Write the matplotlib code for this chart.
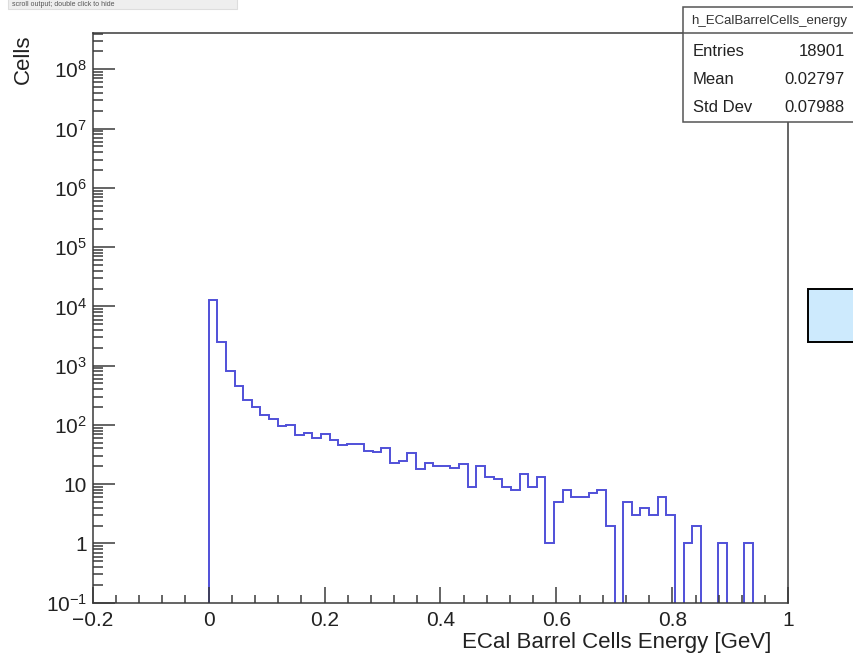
import numpy as np
import matplotlib
matplotlib.use('Agg')
import matplotlib.pyplot as plt
from matplotlib.patches import Rectangle
from matplotlib.ticker import FixedLocator, FixedFormatter, LogLocator, MultipleLocator, NullFormatter

plt.rcParams['font.family'] = ['Liberation Sans', 'DejaVu Sans']
plt.rcParams['mathtext.fontset'] = 'custom'
plt.rcParams['mathtext.rm'] = 'Liberation Sans'
plt.rcParams['mathtext.it'] = 'Liberation Sans:italic'

# =========================
# data
# =========================
bin_lo = 0.0
bin_w = 0.0149
counts = [13000, 2505, 811, 447, 267, 200, 149, 127, 94, 99,
          68, 74, 60, 71, 56, 45, 48, 47, 36, 35,
          40, 23, 25, 33, 18, 23, 20, 20, 19, 22,
          9, 20, 13, 12, 9, 8, 15, 9, 13, 1,
          5, 8, 6, 6, 7, 8, 2, 0, 5, 3,
          4, 3, 6, 3, 0, 1, 2, 0, 0, 1,
          0, 0, 1]

x_ticks = [-0.2, 0, 0.2, 0.4, 0.6, 0.8, 1]
x_labels = ['\u22120.2', '0', '0.2', '0.4', '0.6', '0.8', '1']
y_ticks = [1e-1, 1, 1e1, 1e2, 1e3, 1e4, 1e5, 1e6, 1e7, 1e8]
y_labels = ['$10^{-1}$', '1', '10', '$10^{2}$', '$10^{3}$', '$10^{4}$',
            '$10^{5}$', '$10^{6}$', '$10^{7}$', '$10^{8}$']

stat_names = ['Entries', 'Mean', 'Std Dev']
stat_values = ['18901', '0.02797', '0.07988']
hist_name = 'h_ECalBarrelCells_energy'

edges = bin_lo + np.arange(len(counts) + 1) * bin_w

# =========================
# figure
# =========================
fig = plt.figure(figsize=(8.54, 6.55), dpi=100)
ax = fig.add_axes([0.1085, 0.0798, 0.8146, 0.8694])

ax.set_yscale('log', nonpositive='clip')
ax.stairs(counts, edges, baseline=0, color='#5050d8', linewidth=1.4)

ax.set_xlim(-0.2, 1.0)
ax.set_ylim(0.1, 10 ** 8.607)

frame_col = '#3a3a3a'
for s in ax.spines.values():
    s.set_color(frame_col)
    s.set_linewidth(1.1)

ax.xaxis.set_major_locator(FixedLocator(x_ticks))
ax.xaxis.set_major_formatter(FixedFormatter(x_labels))
ax.xaxis.set_minor_locator(MultipleLocator(0.04))
ax.yaxis.set_major_locator(FixedLocator(y_ticks))
ax.yaxis.set_major_formatter(FixedFormatter(y_labels))
ax.yaxis.set_minor_locator(LogLocator(base=10, subs=np.arange(2, 10), numticks=30))
ax.yaxis.set_minor_formatter(NullFormatter())

ax.tick_params(axis='both', which='both', direction='in', top=False, right=False,
               color=frame_col, labelcolor='#222222', labelsize=15, width=1.1)
ax.tick_params(axis='x', which='major', length=11.5, pad=6)
ax.tick_params(axis='x', which='minor', length=5.8)
ax.tick_params(axis='y', which='major', length=15.5, pad=4)
ax.tick_params(axis='y', which='minor', length=7.5)

ax.set_xlabel('ECal Barrel Cells Energy [GeV]', fontsize=16, color='#222222', ha='right')
ax.xaxis.set_label_coords(0.976, -0.051)
ax.set_ylabel('Cells', fontsize=16, color='#222222', loc='top')
ax.yaxis.set_label_coords(-0.084, 0.997)

# =========================
# stats box
# =========================
W, H = 854.0, 655.0
box = Rectangle((683.3 / W, 1 - 121.7 / H), 200 / W, (121.7 - 7.3) / H,
                transform=fig.transFigure, facecolor='white', edgecolor='#555555',
                linewidth=1.1, zorder=5)
fig.add_artist(box)
fig.add_artist(plt.Line2D([683.3 / W, 1.0], [1 - 33.3 / H] * 2, transform=fig.transFigure,
                          color='#555555', linewidth=1.1, zorder=6))
fig.text(690.7 / W, 1 - 21 / H, hist_name, fontsize=9.5, color='#333333',
         ha='left', va='center', zorder=7)
row_y = [51.7, 80.0, 107.3]
for name, val, y in zip(stat_names, stat_values, row_y):
    fig.text(692.7 / W, 1 - y / H, name, fontsize=12, color='#222222',
             ha='left', va='center', zorder=7)
    fig.text(845.0 / W, 1 - y / H, val, fontsize=12, color='#222222',
             ha='right', va='center', zorder=7)

# light blue box on the right
fig.add_artist(Rectangle((808.3 / W, 1 - 341.7 / H), 80 / W, 52.4 / H,
                         transform=fig.transFigure, facecolor='#cdeafd',
                         edgecolor='black', linewidth=1.4, zorder=5))

# notebook tooltip at the top
fig.add_artist(Rectangle((8 / W, 1 - 9 / H), 229 / W, 12 / H,
                         transform=fig.transFigure, facecolor='#eeeeee',
                         edgecolor='#dddddd', linewidth=0.8, zorder=5))
fig.text(12 / W, 1 - 4.5 / H, 'scroll output; double click to hide', fontsize=5,
         color='#555555', ha='left', va='center', zorder=7)

fig.savefig('out.png', dpi=100)
